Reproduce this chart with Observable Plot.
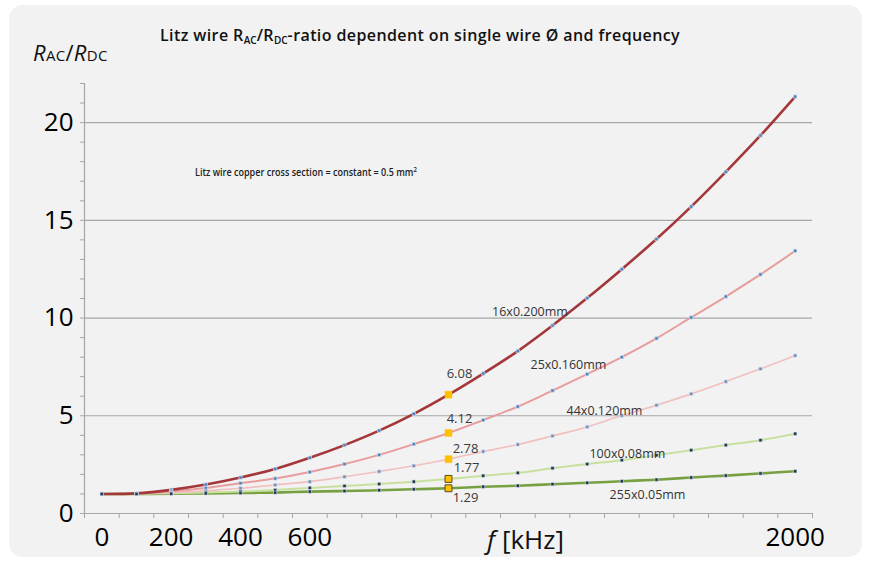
<!DOCTYPE html>
<html>
<head>
<meta charset="utf-8">
<script src="https://cdn.jsdelivr.net/npm/d3@7"></script>
<script src="https://cdn.jsdelivr.net/npm/@observablehq/plot@0.6"></script>
<style>
  html, body { margin: 0; padding: 0; background: #ffffff; }
  #wrap { position: relative; width: 879px; height: 566px; overflow: hidden; font-family: "Open Sans", "Liberation Sans", sans-serif; }
  #panel { position: absolute; left: 9px; top: 5px; width: 853px; height: 552px; border-radius: 14px; background: #f2f2f2; }
  #chart { position: absolute; left: 0; top: 0; }
  .txt { position: absolute; white-space: nowrap; color: #111; line-height: 1; }
  #title { left: 160px; top: 27px; font-size: 16px; font-weight: 600; letter-spacing: 0.4px; }
  #title sub { font-size: 10px; vertical-align: -3px; letter-spacing: 0; }
  #ylab { left: 33px; top: 41px; font-size: 22px; letter-spacing: 0.3px; }
  #ylab i { font-style: italic; }
  #ylab sub { font-size: 15px; vertical-align: baseline; }
  #note { left: 195px; top: 166px; font-size: 10.5px; font-weight: 600; color: #222; transform: scaleX(0.86); transform-origin: left center; }
  #note sup { font-size: 7px; vertical-align: 4px; }
  #xlab { left: 487px; top: 526px; font-size: 26px; }
</style>
</head>
<body>
<div id="wrap">
  <div id="panel"></div>
  <div id="chart"></div>
  <div class="txt" id="title">Litz wire R<sub>AC</sub>/R<sub>DC</sub>-ratio dependent on single wire Ø and frequency</div>
  <div class="txt" id="ylab"><i>R</i><sub>AC</sub>/<i>R</i><sub>DC</sub></div>
  <div class="txt" id="note">Litz wire copper cross section = constant = 0.5 mm<sup>2</sup></div>
  <div class="txt" id="xlab"><i>f</i> [kHz]</div>
</div>
<script>
// Frequency steps (kHz) and the RAC/RDC ratio of each litz wire construction
const freqKHz = [0, 100, 200, 300, 400, 500, 600, 700, 800, 900, 1000,
                 1100, 1200, 1300, 1400, 1500, 1600, 1700, 1800, 1900, 2000];

const wireNames = ["16x0.200mm", "25x0.160mm", "44x0.120mm", "100x0.08mm", "255x0.05mm"];

const ratio16x0200 = [1.00, 1.03, 1.21, 1.48, 1.84, 2.28, 2.85, 3.50, 4.24, 5.10, 6.08,
                      7.16, 8.31, 9.62, 11.02, 12.50, 14.04, 15.70, 17.48, 19.34, 21.33];
const ratio25x0160 = [1.00, 1.02, 1.13, 1.30, 1.55, 1.79, 2.12, 2.53, 3.00, 3.55, 4.12,
                      4.78, 5.47, 6.29, 7.13, 8.00, 8.96, 10.03, 11.10, 12.23, 13.44];
const ratio44x0120 = [1.00, 1.02, 1.07, 1.16, 1.29, 1.46, 1.63, 1.88, 2.15, 2.44, 2.78,
                      3.17, 3.53, 3.97, 4.43, 5.01, 5.54, 6.12, 6.75, 7.40, 8.08];
const ratio100x008 = [1.00, 1.01, 1.03, 1.07, 1.12, 1.20, 1.31, 1.41, 1.51, 1.63, 1.77,
                      1.93, 2.08, 2.32, 2.53, 2.73, 2.98, 3.24, 3.50, 3.75, 4.08];
const ratio255x005 = [1.00, 1.00, 1.01, 1.03, 1.05, 1.07, 1.12, 1.15, 1.19, 1.24, 1.29,
                      1.37, 1.42, 1.50, 1.57, 1.65, 1.73, 1.84, 1.94, 2.05, 2.16];

// Frequency at which the ratio is highlighted and printed
const highlightKHz = 1000;

const yTicks = [0, 5, 10, 15, 20];
const xTickLabels = [0, 200, 400, 600, 2000];

const seriesValues = [ratio16x0200, ratio25x0160, ratio44x0120, ratio100x008, ratio255x005];

// Drawing style of each curve
const styles = [
  {stroke: "#a3373a", width: 2.6, dot: "#4f81bd"},
  {stroke: "#e89c9c", width: 2.0, dot: "#4f81bd"},
  {stroke: "#f2bfbf", width: 1.6, dot: "#6f8fb8"},
  {stroke: "#c8e09e", width: 2.0, dot: "#1f3552"},
  {stroke: "#77a042", width: 2.6, dot: "#1f3552"}
];
// Where each curve's name is written (data units)
const nameAnchors = [
  {f: 1235, r: 10.3}, {f: 1346, r: 7.6}, {f: 1450, r: 5.25}, {f: 1516, r: 3.05}, {f: 1574, r: 0.96}
];
// Offset of each printed value from its highlighted point (pixels)
const valueOffsets = [[11, -21], [11, -14], [17, -10], [18, -11], [17, 10]];

const series = wireNames.map((name, i) => ({
  name,
  points: freqKHz.map((f, j) => ({f, r: seriesValues[i][j]})),
  style: styles[i]
}));

const marks = [
  Plot.gridY(yTicks.filter(d => d > 0), {stroke: "#a6a6a6", strokeOpacity: 1, strokeWidth: 1.2}),
  Plot.ruleY([0], {stroke: "#a6a6a6", strokeWidth: 1.2}),
  Plot.ruleX([-50], {stroke: "#a6a6a6", strokeWidth: 1.2}),
  Plot.axisY({ticks: d3.range(0, 23), tickSize: 4, tickFormat: () => "", stroke: "#a6a6a6", label: null}),
  Plot.axisY({ticks: yTicks, tickSize: 0, tickPadding: 11, fontSize: 26, label: null}),
  Plot.axisX({ticks: d3.range(-50, 2051, 100), tickSize: 5, tickFormat: () => "", stroke: "#a6a6a6", label: null}),
  Plot.axisX({ticks: xTickLabels, tickSize: 0, tickPadding: 14, fontSize: 26, tickFormat: d => String(d), label: null})
];

// Curves, bottom to top so the heavy red one sits above
for (const s of series.slice().reverse()) {
  marks.push(Plot.line(s.points, {x: "f", y: "r", stroke: s.style.stroke, strokeWidth: s.style.width, curve: "catmull-rom"}));
}
for (const s of series) {
  marks.push(Plot.dot(s.points.filter(d => d.f !== highlightKHz), {
    x: "f", y: "r", symbol: "square", r: 1.9, fill: s.style.dot, stroke: "#dfe8f4", strokeWidth: 0.6
  }));
}
series.forEach((s, i) => {
  const hp = s.points.filter(d => d.f === highlightKHz);
  marks.push(Plot.dot(hp, {
    x: "f", y: "r", symbol: "square", r: 3.9, fill: "#ffc000",
    stroke: i >= 3 ? "#5a4a1a" : "#ffc000", strokeWidth: i >= 3 ? 1 : 0.5
  }));
  marks.push(Plot.text(hp, {
    x: "f", y: "r", text: d => d.r.toFixed(2), dx: valueOffsets[i][0], dy: valueOffsets[i][1],
    fontSize: 13, fill: "#3a3a3a", fontWeight: 500
  }));
  marks.push(Plot.text([s.name], {
    x: () => nameAnchors[i].f, y: () => nameAnchors[i].r, text: d => d,
    fontSize: 12.5, fill: "#333", fontWeight: 500
  }));
});

const chart = Plot.plot({
  width: 879,
  height: 566,
  marginLeft: 84,
  marginRight: 67,
  marginTop: 83,
  marginBottom: 53,
  x: {type: "linear", domain: [-50, 2050]},
  y: {type: "linear", domain: [0, 22]},
  style: {background: "transparent", fontFamily: "'Open Sans', 'Liberation Sans', sans-serif", color: "#000", overflow: "visible"},
  marks
});
document.getElementById("chart").appendChild(chart);
</script>
</body>
</html>
